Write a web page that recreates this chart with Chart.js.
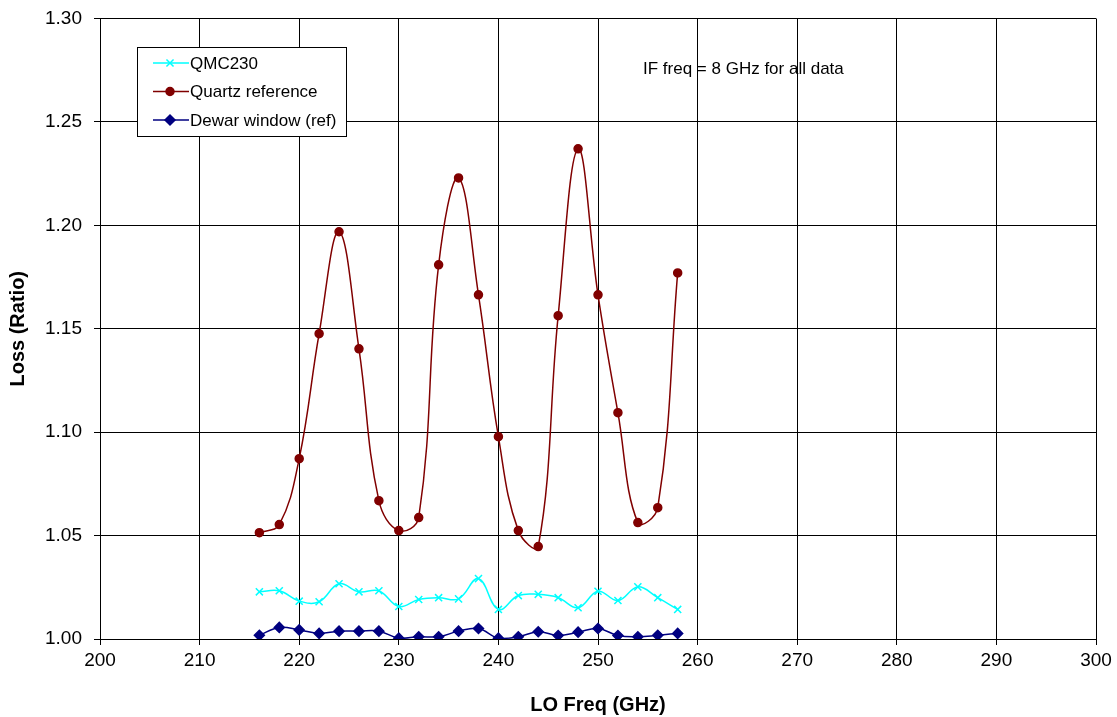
<!DOCTYPE html>
<html>
<head>
<meta charset="utf-8">
<title>Loss vs LO Freq</title>
<script src="https://cdn.jsdelivr.net/npm/chart.js@4/dist/chart.umd.min.js"></script>
<style>
  html, body { margin: 0; padding: 0; background: #fff; }
  #wrap { width: 1117px; height: 717px; }
</style>
</head>
<body>
<div id="wrap"><canvas id="myChart" width="1117" height="717"></canvas></div>
<script>
const FREQS = [216, 218, 220, 222, 224, 226, 228, 230, 232, 234, 236,
  238, 240, 242, 244, 246, 248, 250, 252, 254, 256, 258];

const QMC230 = [1.0228, 1.0233, 1.0183, 1.0180, 1.0267, 1.0228, 1.0233, 1.0157, 1.0191, 1.0200, 1.0194,
  1.0292, 1.0143, 1.0210, 1.0216, 1.0200, 1.0151, 1.0231, 1.0186, 1.0252, 1.0200, 1.0143];

const QUARTZ = [1.0514, 1.0553, 1.0872, 1.1476, 1.1969, 1.1403, 1.0669, 1.0524, 1.0587, 1.1809, 1.2229,
  1.1664, 1.0978, 1.0524, 1.0447, 1.1563, 1.2370, 1.1664, 1.1094, 1.0563, 1.0635, 1.1770];

const DEWAR = [1.0018, 1.0056, 1.0044, 1.0027, 1.0038, 1.0038, 1.0038, 1.0004, 1.0011, 1.0011, 1.0038,
  1.0051, 1.0004, 1.0011, 1.0035, 1.0017, 1.0033, 1.0051, 1.0017, 1.0011, 1.0018, 1.0027];

const NOTE = 'IF freq = 8 GHz for all data';
const FONT = '"Liberation Sans", Arial, sans-serif';

const toPoints = values => values.map((v, i) => ({ x: FREQS[i], y: v }));

const SERIES = [
  { label: 'QMC230', data: QMC230, color: '#00FFFF', style: 'crossRot', radius: 5 },
  { label: 'Quartz reference', data: QUARTZ, color: '#800000', style: 'circle', radius: 4 },
  { label: 'Dewar window (ref)', data: DEWAR, color: '#000080', style: 'rectRot', radius: 5 },
];

// legend box + note drawn inside the plot area
const boxLegend = {
  id: 'boxLegend',
  afterDraw(chart) {
    const ctx = chart.ctx;
    ctx.save();
    // box
    ctx.fillStyle = '#fff';
    ctx.fillRect(137.5, 47.5, 209, 89);
    ctx.strokeStyle = '#000';
    ctx.lineWidth = 1;
    ctx.strokeRect(137.5, 47.5, 209, 89);
    ctx.font = '17px ' + FONT;
    ctx.textBaseline = 'middle';
    SERIES.forEach((s, i) => {
      const y = 63 + i * 28.5;
      ctx.strokeStyle = s.color;
      ctx.lineWidth = 1.5;
      ctx.beginPath();
      ctx.moveTo(153, y);
      ctx.lineTo(189, y);
      ctx.stroke();
      ctx.fillStyle = s.color;
      Chart.helpers.drawPoint(ctx, { pointStyle: s.style, radius: s.radius, borderWidth: 1.5 }, 170, y);
      ctx.fillStyle = '#000';
      ctx.fillText(s.label, 190, y + 1);
    });
    // note
    ctx.font = '17px ' + FONT;
    ctx.fillStyle = '#000';
    ctx.textBaseline = 'alphabetic';
    ctx.fillText(NOTE, 643, 73.5);
    ctx.restore();
  },
};

const ctx = document.getElementById('myChart').getContext('2d');
new Chart(ctx, {
  type: 'line',
  data: {
    datasets: SERIES.map(s => ({
      label: s.label,
      data: toPoints(s.data),
      borderColor: s.color,
      backgroundColor: s.color,
      borderWidth: 1.5,
      pointStyle: s.style,
      pointRadius: s.radius,
      pointBorderWidth: 1.5,
      pointBorderColor: s.color,
      pointBackgroundColor: s.color,
      tension: 0.4,
      fill: false,
    })),
  },
  options: {
    responsive: false,
    animation: false,
    layout: { padding: { top: 18.5, right: 21, bottom: 0, left: 0 } },
    plugins: {
      legend: { display: false },
      tooltip: { enabled: false },
    },
    scales: {
      x: {
        type: 'linear',
        min: 200,
        max: 300,
        ticks: {
          stepSize: 10,
          color: '#000',
          font: { family: FONT, size: 19 },
          padding: 4,
          maxRotation: 0,
        },
        grid: { color: '#000', lineWidth: 1, tickLength: 6 },
        border: { color: '#000' },
        title: {
          display: true,
          text: 'LO Freq (GHz)',
          color: '#000',
          font: { family: FONT, size: 20, weight: 'bold' },
          padding: { top: 6, bottom: 0 },
        },
        afterFit(scale) {
          scale.height = 78;
          scale.paddingLeft = 0;
          scale.paddingRight = 0;
        },
      },
      y: {
        min: 1.0,
        max: 1.3,
        ticks: {
          stepSize: 0.05,
          color: '#000',
          font: { family: FONT, size: 19 },
          padding: 12,
          callback: v => v.toFixed(2),
        },
        grid: { color: '#000', lineWidth: 1, tickLength: 6 },
        border: { color: '#000' },
        title: {
          display: true,
          text: 'Loss (Ratio)',
          color: '#000',
          font: { family: FONT, size: 20, weight: 'bold' },
          padding: { top: 6, bottom: 0 },
        },
        afterFit(scale) {
          scale.width = 100;
          scale.paddingTop = 0;
          scale.paddingBottom = 0;
        },
      },
    },
  },
  plugins: [boxLegend],
});
</script>
</body>
</html>
